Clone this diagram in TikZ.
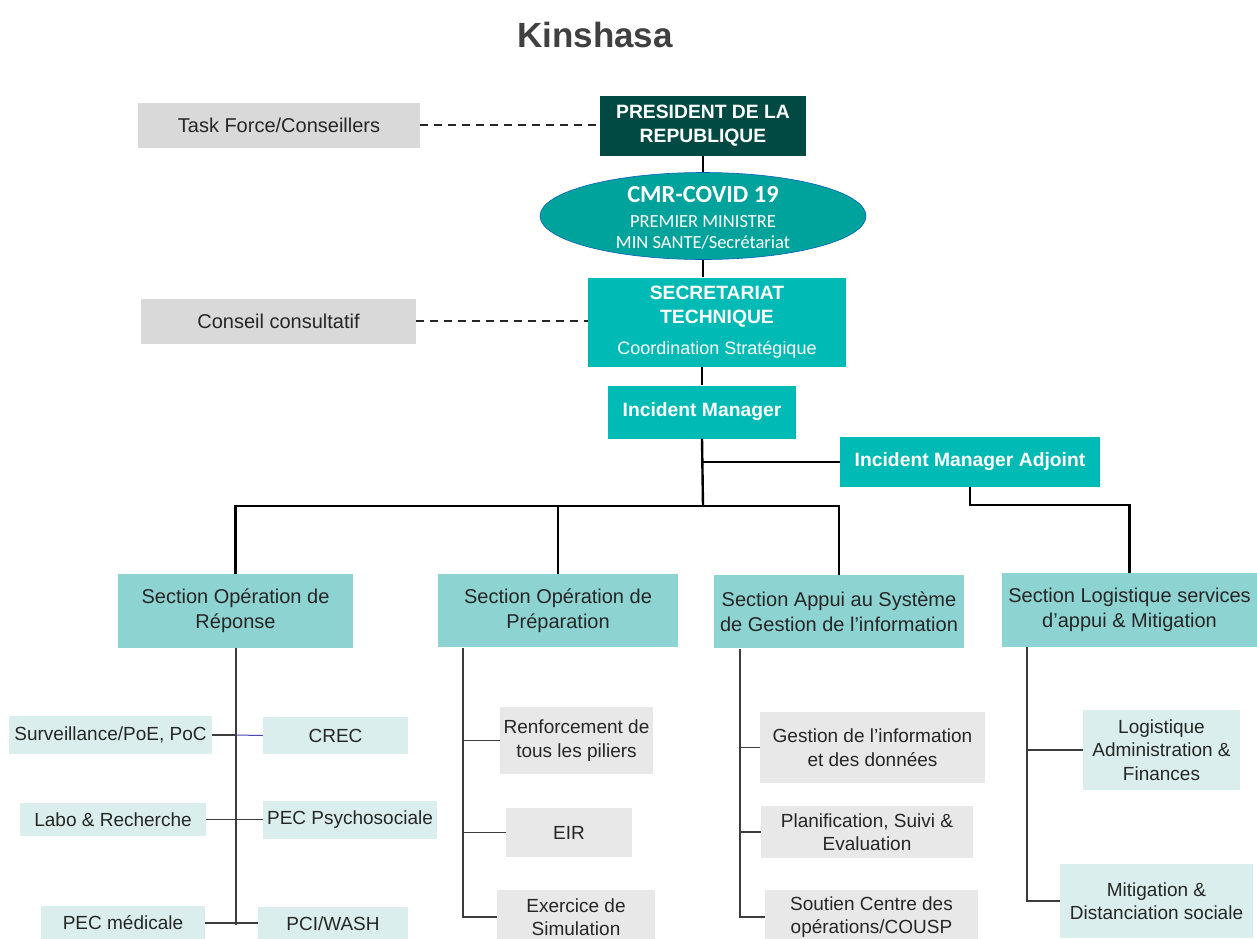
\documentclass[tikz,border=0pt]{standalone}
\usepackage{fontspec}
\setmainfont{Liberation Sans}
\newfontfamily\calfont{Carlito}
\usetikzlibrary{shapes.geometric,calc}
\definecolor{presgreen}{HTML}{004A43}
\definecolor{ellteal}{HTML}{00A29C}
\definecolor{brteal}{HTML}{00BAB5}
\definecolor{secfill}{HTML}{8DD3D1}
\definecolor{lightfill}{HTML}{DAEFED}
\definecolor{grayfill}{HTML}{E8E8E8}
\definecolor{topgray}{HTML}{D9D9D9}
\definecolor{titlegray}{HTML}{404040}
\definecolor{txt}{HTML}{262626}
\tikzset{
  x=1pt, y=-1pt,
  box/.style={rectangle, inner sep=0pt, align=center, text=txt},
  hdr/.style={box, text=white, font=\bfseries\fontsize{19.3}{24}\selectfont},
  secbox/.style={box, fill=secfill, font=\fontsize{20}{25}\selectfont},
  lbox/.style={box, fill=lightfill, font=\fontsize{19}{23.5}\selectfont},
  gbox/.style={box, fill=grayfill, font=\fontsize{19}{23.5}\selectfont},
  tbox/.style={box, fill=topgray, font=\fontsize{20}{24}\selectfont},
  mainline/.style={draw=black, line width=2.4pt},
  subline/.style={draw=txt!90, line width=1.4pt},
  dashline/.style={draw=black!85, line width=2pt, dash pattern=on 8pt off 6pt},
}
\begin{document}
\begin{tikzpicture}
\fill[white] (0,0) rectangle (1257,938);
\useasboundingbox (0,0) rectangle (1257,938);

\node[text=titlegray, font=\bfseries\fontsize{35}{40}\selectfont] (title) at (595,35) {Kinshasa};

% top level
\node[tbox, minimum width=282, minimum height=45] (tf) at (279,125) {Task Force/Conseillers};
\node[hdr, fill=presgreen, minimum width=206, minimum height=60] (pres) at (703,126) {PRESIDENT DE LA\\REPUBLIQUE};
\node[ellipse, fill=ellteal, draw=ellteal!60!blue, line width=0.6pt, minimum width=326, minimum height=87, inner sep=0pt] (cmr) at (703,216) {};
\node[align=center, text=white, inner sep=0pt, font=\calfont\fontsize{18.5}{21}\selectfont] (cmrtext) at (703,218)
  {{\bfseries\fontsize{24.5}{25}\selectfont CMR-COVID 19}\\[4pt]PREMIER MINISTRE\\MIN SANTE/Secrétariat};
\node[box, fill=brteal, minimum width=258, minimum height=89, text=white, font=\fontsize{18}{24}\selectfont] (st) at (717,322)
  {{\bfseries\fontsize{19.3}{24}\selectfont SECRETARIAT}\\{\bfseries\fontsize{19.3}{24}\selectfont TECHNIQUE}\\[7pt]Coordination Stratégique};
\node[tbox, minimum width=275, minimum height=45] (cc) at (278.5,321) {Conseil consultatif};
\node[hdr, fill=brteal, minimum width=188, minimum height=53] (im) at (702,412) {Incident Manager};
\node[hdr, fill=brteal, minimum width=260, minimum height=50] (ima) at (970,462) {Incident Manager Adjoint};

% sections
\node[secbox, minimum width=235, minimum height=74] (s1) at (235.5,611) {Section Opération de\\Réponse};
\node[secbox, minimum width=240, minimum height=73] (s2) at (558,610.5) {Section Opération de\\Préparation};
\node[secbox, minimum width=250, minimum height=73] (s3) at (839,611.5) {Section Appui au Système\\de Gestion de l’information};
\node[secbox, minimum width=255, minimum height=74] (s4) at (1129.5,610) {Section Logistique services\\d’appui \& Mitigation};

% section 1 items
\node[lbox, minimum width=203, minimum height=38] (surv) at (110.5,735) {Surveillance/PoE, PoC};
\node[lbox, minimum width=145, minimum height=37] (crec) at (335.5,735.5) {CREC};
\node[lbox, minimum width=186, minimum height=33] (labo) at (113,819.5) {Labo \& Recherche};
\node[lbox, minimum width=174, minimum height=38] (psy) at (350,820) {PEC Psychosociale};
\node[lbox, minimum width=164, minimum height=34] (med) at (123,923) {PEC médicale};
\node[lbox, minimum width=150, minimum height=33] (pci) at (333,923.5) {PCI/WASH};

% section 2 items
\node[gbox, minimum width=153, minimum height=67] (ren) at (576.5,740.5) {Renforcement de\\tous les piliers};
\node[gbox, minimum width=126, minimum height=49] (eir) at (569,832.5) {EIR};
\node[gbox, minimum width=158, minimum height=54] (exe) at (576,917) {Exercice de\\Simulation};

% section 3 items
\node[gbox, minimum width=225, minimum height=71] (ges) at (872.5,747.5) {Gestion de l’information\\et des données};
\node[gbox, minimum width=212, minimum height=52] (pla) at (867,832) {Planification, Suivi \&\\Evaluation};
\node[gbox, minimum width=213, minimum height=54] (sou) at (871.5,917) {Soutien Centre des\\opérations/COUSP};

% section 4 items
\node[lbox, minimum width=157, minimum height=80] (log) at (1161.5,750) {Logistique\\Administration \&\\Finances};
\node[lbox, minimum width=193, minimum height=74] (mit) at (1156.5,901) {Mitigation \&\\Distanciation sociale};

% dashed links
\draw[dashline] (tf.east) -- (tf.east -| pres.west);
\draw[dashline] (cc.east) -- (cc.east -| st.west);

% main spine
\draw[mainline] (pres.south) -- (cmr.north);
\draw[mainline] (cmr.south) -- (cmr.south |- st.north);
\draw[mainline] (st.south -| im.north) -- (im.north);
\coordinate (bus) at (703,506);
\draw[mainline] (im.south) -- (bus);
\draw[mainline] (im.south |- ima.west) -- (ima.west);
\draw[mainline] (s1.north) |- (bus) -| (s3.north);
\draw[mainline] (s2.north) -- (s2.north |- bus);
\coordinate (abus) at (970,505);
\draw[mainline] (ima.south) -- (abus) -| (s4.north);

% section 1 tree
\coordinate (v1) at (236,648);
\draw[subline] (v1) -- (236,925);
\draw[subline] (surv.east) -- (236,735);
\draw[draw=blue!45!gray, line width=1pt] (236,735) -- (crec.west);
\draw[subline] (labo.east) -- (psy.west |- labo.east);
\draw[subline] (med.east) -- (pci.west |- med.east);

% section 2 tree
\coordinate (v2) at (463,648);
\draw[subline] (v2) |- (exe.west);
\draw[subline] (v2 |- ren.west) -- (ren.west);
\draw[subline] (v2 |- eir.west) -- (eir.west);

% section 3 tree
\coordinate (v3) at (740,649);
\draw[subline] (v3) |- (sou.west);
\draw[subline] (v3 |- ges.west) -- (ges.west);
\draw[subline] (v3 |- pla.west) -- (pla.west);

% section 4 tree
\coordinate (v4) at (1027,647);
\draw[subline] (v4) |- (mit.west);
\draw[subline] (v4 |- log.west) -- (log.west);
\end{tikzpicture}
\end{document}
